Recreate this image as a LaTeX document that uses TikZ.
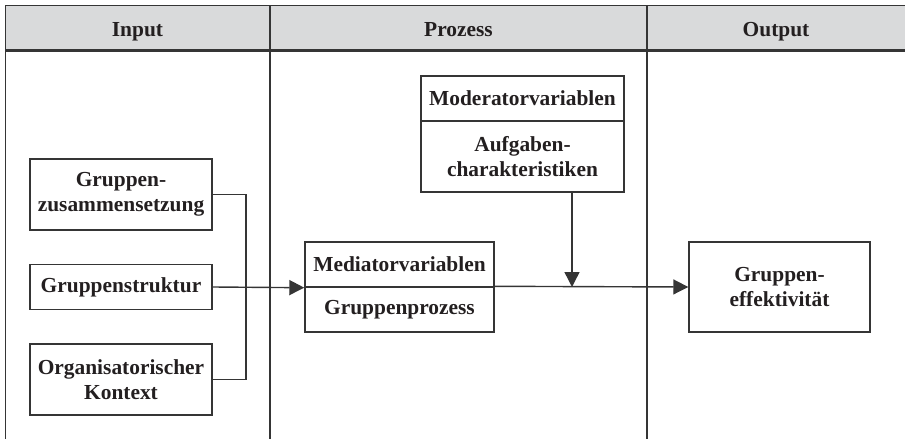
\documentclass[tikz,border=0pt]{standalone}
\usepackage{fontspec}
\setmainfont{Liberation Serif}
\usetikzlibrary{arrows.meta}
\definecolor{ink}{HTML}{231F20}
\definecolor{rulec}{HTML}{353535}
\definecolor{headfill}{HTML}{D9DADB}
\begin{document}
\begin{tikzpicture}[x=1pt,y=-1pt,
  txt/.style={font=\fontsize{21.4}{25}\selectfont\bfseries, text=ink, align=center},
  box/.style={txt, draw=rulec, line width=1.4pt, inner sep=0pt},
  link/.style={draw=rulec, line width=1.4pt},
  arr/.style={link, -{Triangle[length=15pt,width=15pt]}},
  frame/.style={draw=rulec, line width=1.5pt},
  headtxt/.style={txt, anchor=base},
]
\useasboundingbox (0,0) rectangle (905,439);

% header band and column frame
\fill[headfill] (5,5) rectangle (905,50);
\draw[frame] (5,5.5) -- (905,5.5);
\draw[draw=rulec, line width=2.6pt] (5,50.5) -- (905,50.5);
\draw[frame] (5.5,5) -- (5.5,439);
\draw[frame] (270,5) -- (270,439);
\draw[frame] (647,5) -- (647,439);

\node[headtxt] (hin)  at (137.5,36) {Input};
\node[headtxt] (hpro) at (458.5,36) {Prozess};
\node[headtxt] (hout) at (776,36)   {Output};

% input factors
\node[box, minimum width=182, minimum height=71] (g1) at (121,194.5) {Gruppen-\\zusammensetzung};
\node[box, minimum width=182, minimum height=45] (g2) at (121,287) {Gruppenstruktur};
\node[box, minimum width=182, minimum height=71] (g3) at (121,379.5) {Organisatorischer\\Kontext};

% process
\node[box, minimum width=189, minimum height=45] (med1) at (399.5,264.5) {Mediatorvariablen};
\node[box, minimum width=189, minimum height=45] (med2) at (399.5,309.5) {Gruppenprozess};
\node[box, minimum width=203, minimum height=45] (mod1) at (522.5,98.5) {Moderatorvariablen};
\node[box, minimum width=203, minimum height=71] (mod2) at (522.5,156.5) {Aufgaben-\\charakteristiken};

% output
\node[box, minimum width=181, minimum height=90] (out) at (779.5,287) {Gruppen-\\effektivität};

% connectors
\coordinate (bx) at (246,287);
\coordinate (mj) at (572,287);
\draw[link] (g1.east) -| (bx) |- (g3.east);
\draw[arr] (g2.east) -- (med1.south west);
\draw[arr] (med2.north east) -- (out.west);
\draw[arr] (mod2.south -| mj) -- (mj);
\end{tikzpicture}
\end{document}
